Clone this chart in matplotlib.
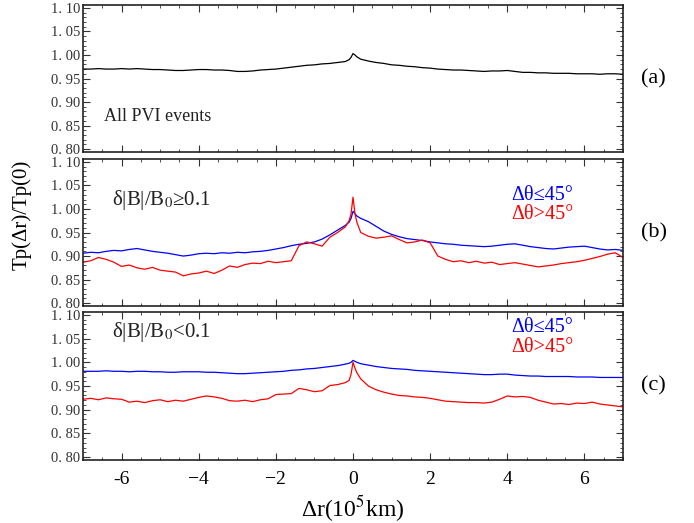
import numpy as np
import matplotlib
matplotlib.use('Agg')
import matplotlib.pyplot as plt
from matplotlib.ticker import MultipleLocator

plt.rcParams['font.family'] = ['Liberation Serif', 'DejaVu Serif']
plt.rcParams['mathtext.fontset'] = 'stix'

######################################################
# Data: Tp(dr)/Tp(0) vs dr (10^5 km)
x_left = np.round(np.arange(-7.0, -0.19, 0.2), 2)
x_mid = [-0.1, -0.05, 0.0, 0.05, 0.1]
x_right = np.round(np.arange(0.2, 7.01, 0.2), 2)
dr = np.concatenate([x_left, x_mid, x_right])

# (a) all PVI events
all_events = [0.970, 0.970, 0.971, 0.970, 0.970, 0.971, 0.970, 0.971, 0.970, 0.969,
              0.969, 0.968, 0.967, 0.967, 0.968, 0.969, 0.969, 0.968, 0.968, 0.967,
              0.965, 0.965, 0.966, 0.968, 0.969, 0.970, 0.972, 0.974, 0.976, 0.978,
              0.979, 0.981, 0.982, 0.984, 0.986,
              0.990, 0.995, 1.003, 1.000, 0.996,
              0.991, 0.987, 0.984, 0.982, 0.979, 0.978, 0.976, 0.975, 0.973, 0.972,
              0.970, 0.969, 0.968, 0.968, 0.967, 0.966, 0.965, 0.966, 0.966, 0.967,
              0.965, 0.963, 0.963, 0.962, 0.962, 0.961, 0.961, 0.961, 0.960, 0.960,
              0.960, 0.959, 0.960, 0.960, 0.959]

# (b) dB/B0 >= 0.1
b_small_angle = [0.906, 0.908, 0.907, 0.910, 0.912, 0.911, 0.914, 0.916, 0.913, 0.910,
                 0.908, 0.906, 0.903, 0.900, 0.902, 0.905, 0.906, 0.905, 0.907, 0.906,
                 0.908, 0.907, 0.909, 0.910, 0.912, 0.915, 0.918, 0.922, 0.925, 0.927,
                 0.930, 0.936, 0.945, 0.955, 0.965,
                 0.972, 0.980, 0.995, 0.990, 0.985,
                 0.980, 0.973, 0.963, 0.953, 0.946, 0.941, 0.937, 0.935, 0.933, 0.930,
                 0.928, 0.926, 0.925, 0.923, 0.922, 0.921, 0.920, 0.921, 0.923, 0.925,
                 0.926, 0.923, 0.920, 0.918, 0.916, 0.915, 0.917, 0.919, 0.920, 0.921,
                 0.918, 0.915, 0.913, 0.914, 0.912]
b_large_angle = [0.887, 0.890, 0.897, 0.893, 0.887, 0.878, 0.881, 0.875, 0.872, 0.876,
                 0.870, 0.868, 0.866, 0.858, 0.862, 0.864, 0.868, 0.863, 0.870, 0.879,
                 0.876, 0.882, 0.885, 0.884, 0.889, 0.886, 0.888, 0.890, 0.922, 0.930,
                 0.926, 0.921, 0.940, 0.950, 0.962,
                 0.975, 0.990, 1.025, 0.990, 0.972,
                 0.950, 0.942, 0.938, 0.940, 0.943, 0.935, 0.928, 0.930, 0.934, 0.928,
                 0.900, 0.893, 0.888, 0.890, 0.886, 0.889, 0.885, 0.887, 0.882, 0.884,
                 0.886, 0.883, 0.880, 0.877, 0.879, 0.881, 0.884, 0.886, 0.888, 0.891,
                 0.895, 0.899, 0.904, 0.907, 0.897]

# (c) dB/B0 < 0.1
c_small_angle = [0.981, 0.981, 0.981, 0.982, 0.981, 0.981, 0.980, 0.981, 0.981, 0.980,
                 0.980, 0.979, 0.979, 0.980, 0.980, 0.980, 0.979, 0.979, 0.978, 0.977,
                 0.976, 0.976, 0.977, 0.978, 0.979, 0.980, 0.981, 0.983, 0.984, 0.986,
                 0.987, 0.989, 0.991, 0.993, 0.996,
                 0.998, 1.000, 1.004, 1.002, 1.000,
                 0.997, 0.994, 0.991, 0.989, 0.987, 0.986, 0.985, 0.983, 0.982, 0.981,
                 0.980, 0.979, 0.978, 0.977, 0.976, 0.975, 0.974, 0.974, 0.975, 0.975,
                 0.973, 0.972, 0.971, 0.971, 0.970, 0.970, 0.970, 0.970, 0.969, 0.969,
                 0.969, 0.968, 0.968, 0.968, 0.968]
c_large_angle = [0.922, 0.924, 0.921, 0.925, 0.923, 0.922, 0.916, 0.918, 0.915, 0.919,
                 0.921, 0.917, 0.920, 0.918, 0.922, 0.926, 0.929, 0.927, 0.924, 0.919,
                 0.918, 0.920, 0.917, 0.921, 0.923, 0.932, 0.933, 0.934, 0.945, 0.942,
                 0.938, 0.940, 0.951, 0.953, 0.957,
                 0.962, 0.975, 1.000, 0.988, 0.978,
                 0.965, 0.950, 0.942, 0.937, 0.933, 0.930, 0.929, 0.927, 0.926, 0.924,
                 0.921, 0.918, 0.917, 0.916, 0.915, 0.915, 0.914, 0.916, 0.922, 0.929,
                 0.927, 0.928, 0.926, 0.920, 0.916, 0.912, 0.913, 0.911, 0.914, 0.913,
                 0.916, 0.912, 0.910, 0.908, 0.906]

y_ticks = [0.80, 0.85, 0.90, 0.95, 1.00, 1.05, 1.10]
y_ticklabels = ['0. 80', '0. 85', '0. 90', '0. 95', '1. 00', '1. 05', '1. 10']
x_ticks = [-6, -4, -2, 0, 2, 4, 6]
x_ticklabels = ['-6', '\u22124', '\u22122', '0', '2', '4', '6']

######################################################
fig = plt.figure(figsize=(6.94, 5.23), dpi=100)
left, width = 83 / 694, 540 / 694
panels = [(1 - 152 / 523, 147 / 523), (1 - 306 / 523, 147 / 523), (1 - 460 / 523, 148 / 523)]
axes = [fig.add_axes([left, b, width, h]) for b, h in panels]

axes[0].plot(dr, all_events, color='black', lw=0.9)
axes[1].plot(dr, b_small_angle, color='blue', lw=0.9)
axes[1].plot(dr, b_large_angle, color='red', lw=0.9)
axes[2].plot(dr, c_small_angle, color='blue', lw=0.9)
axes[2].plot(dr, c_large_angle, color='red', lw=0.9)

for i, ax in enumerate(axes):
    ax.set_xlim(-7, 7)
    ax.set_ylim(0.794, 1.106)
    ax.set_yticks(y_ticks)
    ax.set_yticklabels(y_ticklabels, fontsize=10.5, color='#333333')
    ax.yaxis.set_minor_locator(MultipleLocator(0.01))
    ax.set_xticks(x_ticks)
    ax.xaxis.set_minor_locator(MultipleLocator(0.5))
    ax.tick_params(which='both', direction='in', top=True, right=True, color='#333333')
    ax.tick_params(which='major', length=5, width=0.8, pad=2)
    ax.tick_params(which='minor', length=2.5, width=0.6)
    for s in ax.spines.values():
        s.set_linewidth(1.2)
        s.set_color('#222222')
    if i < 2:
        ax.set_xticklabels([])
    else:
        ax.set_xticklabels(x_ticklabels, fontsize=14)
        ax.tick_params(axis='x', pad=8)

axes[0].text(-6.45, 0.870, 'All PVI events', fontsize=13, va='center', color='#222222')
axes[1].text(-6.25, 1.019, r'δ|B|/B$_0$≥0.1', fontsize=15, va='center', color='#222222')
axes[2].text(-6.25, 1.063, r'δ|B|/B$_0$<0.1', fontsize=15, va='center', color='#222222')
axes[1].text(4.1, 1.029, 'Δθ≤45°', fontsize=14.5, va='center', color='blue')
axes[1].text(4.1, 0.989, 'Δθ>45°', fontsize=14.5, va='center', color='red')
axes[2].text(4.1, 1.074, 'Δθ≤45°', fontsize=14.5, va='center', color='blue')
axes[2].text(4.1, 1.032, 'Δθ>45°', fontsize=14.5, va='center', color='red')

for ax, lab in zip(axes, ['(a)', '(b)', '(c)']):
    ax.text(1.057, 0.5, lab, transform=ax.transAxes, fontsize=16, va='center', ha='center')

fig.text(22 / 694, 1 - 215 / 523, 'Tp(Δr)/Tp(0)', rotation=90, fontsize=15,
         va='center', ha='center')
fig.text(353 / 694, 1 - 509 / 523, r'Δr(10$^5$km)', fontsize=17, va='center', ha='center')

fig.savefig('out.png', dpi=100)
